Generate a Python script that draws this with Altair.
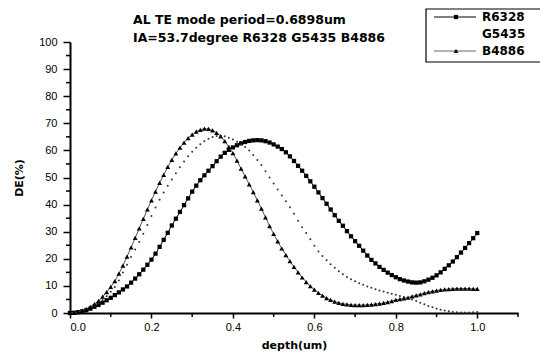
import altair as alt
import pandas as pd

# ---------------- data ----------------
depth = [round(i * 0.01, 2) for i in range(101)]

r6328 = [0, 0.1, 0.3, 0.6, 1.0, 1.6, 2.3, 3.0, 3.8, 4.7,
         5.6, 6.6, 7.6, 8.7, 9.8, 11.2, 12.7, 14.3, 16.0, 17.8,
         19.7, 21.9, 24.4, 27.0, 29.6, 32.3, 34.8, 37.3, 39.8, 42.3,
         44.8, 47.0, 49.0, 50.8, 52.5, 54.2, 56.0, 57.7, 59.1, 60.2,
         61.1, 61.9, 62.6, 63.1, 63.5, 63.7, 63.8, 63.7, 63.4, 62.9,
         62.2, 61.4, 60.5, 59.3, 57.8, 56.1, 54.3, 52.5, 50.6, 48.6,
         46.6, 44.5, 42.4, 40.3, 38.2, 36.1, 34.0, 32.2, 30.2, 28.3,
         26.5, 24.8, 23.0, 21.2, 19.6, 18.3, 17.0, 15.9, 14.9, 14.0,
         13.2, 12.5, 12.0, 11.6, 11.3, 11.2, 11.3, 11.7, 12.3, 13.0,
         13.9, 15.0, 16.3, 17.6, 19.0, 20.6, 22.3, 24.0, 25.8, 27.6,
         29.5]

g5435 = [0, 0.1, 0.3, 0.7, 1.2, 1.8, 2.6, 3.6, 4.8, 6.2,
         7.8, 9.6, 12.0, 14.9, 17.8, 20.7, 23.4, 26.2, 29.2, 32.5,
         35.8, 38.9, 41.8, 44.5, 47.0, 49.3, 51.6, 53.8, 55.9, 57.8,
         59.5, 61.0, 62.3, 63.4, 64.3, 64.9, 65.3, 65.4, 65.2, 64.7,
         64.0, 63.2, 62.3, 61.3, 60.0, 58.3, 56.5, 54.6, 52.3, 50.0,
         47.8, 45.6, 43.4, 41.2, 39.0, 36.6, 34.0, 31.6, 29.5, 27.2,
         24.8, 22.7, 21.0, 19.5, 18.0, 16.7, 15.4, 14.3, 13.3, 12.5,
         11.7, 11.0, 10.4, 9.8, 9.3, 8.8, 8.3, 7.9, 7.5, 7.1,
         6.7, 6.3, 5.9, 5.5, 5.0, 4.4, 3.8, 3.2, 2.6, 2.1,
         1.6, 1.2, 0.9, 0.6, 0.4, 0.3, 0.2, 0.2, 0.2, 0.3,
         0.4]

b4886 = [0, 0.1, 0.4, 0.9, 1.5, 2.3, 3.3, 4.5, 6.0, 7.7,
         9.6, 11.8, 14.5, 17.5, 20.8, 24.2, 27.7, 31.2, 34.7, 38.2,
         41.6, 44.8, 48.0, 51.0, 53.9, 56.5, 58.9, 61.0, 62.9, 64.5,
         65.8, 66.9, 67.6, 68.0, 67.9, 67.4, 66.5, 65.2, 63.4, 61.3,
         59.0, 56.2, 53.3, 50.4, 47.5, 44.6, 41.6, 38.5, 35.3, 32.1,
         29.2, 26.4, 23.8, 21.4, 19.1, 17.0, 15.0, 13.1, 11.4, 9.9,
         8.6, 7.4, 6.4, 5.5, 4.8, 4.2, 3.7, 3.4, 3.2, 3.0,
         2.9, 2.9, 2.9, 3.0, 3.1, 3.3, 3.5, 3.7, 4.0, 4.4,
         4.8, 5.1, 5.4, 5.7, 6.1, 6.5, 6.9, 7.3, 7.7, 8.0,
         8.3, 8.5, 8.7, 8.8, 8.9, 9.0, 9.0, 9.0, 9.0, 8.9,
         8.9]

series_names = ["R6328", "G5435", "B4886"]
title_lines = ["AL TE mode period=0.6898um", "IA=53.7degree R6328 G5435 B4886"]
x_major = [0.0, 0.2, 0.4, 0.6, 0.8, 1.0]
x_minor = [0.1, 0.3, 0.5, 0.7, 0.9, 1.1]
y_major = [0, 10, 20, 30, 40, 50, 60, 70, 80, 90, 100]
y_minor = [5, 15, 25, 35, 45, 55, 65, 75, 85, 95]

df = pd.DataFrame({
    "depth": depth * 3,
    "DE": r6328 + g5435 + b4886,
    "series": [series_names[0]] * 101 + [series_names[1]] * 101 + [series_names[2]] * 101,
})

W, H = 448, 271
LABEL_FONT = "Liberation Sans"
BOLD_FONT = "DejaVu Sans"

xscale = alt.Scale(domain=[0, 1.1], nice=False, zero=False)
yscale = alt.Scale(domain=[0, 100], nice=False)

x_axis = alt.Axis(orient="bottom", values=x_major, format=".1f", title="depth(um)",
                  grid=False, tickSize=5, tickWidth=1.5, domainWidth=2,
                  domainColor="black", tickColor="black", labelFont=LABEL_FONT,
                  labelFontSize=11, labelColor="black", labelPadding=3,
                  labelOverlap=False,
                  titleFont=BOLD_FONT, titleFontSize=11, titleFontWeight="bold",
                  titleColor="black", titlePadding=7)
y_axis = alt.Axis(orient="left", values=y_major, format="d", title="DE(%)", grid=False,
                  tickSize=7, tickWidth=1.5, domainWidth=2, domainColor="black",
                  tickColor="black", labelFont=LABEL_FONT, labelFontSize=11,
                  labelColor="black", labelPadding=6, labelOverlap=False,
                  titleFont=BOLD_FONT,
                  titleFontSize=11, titleFontWeight="bold", titleColor="black",
                  titlePadding=14)

X = alt.X("depth:Q", scale=xscale, axis=x_axis)
Y = alt.Y("DE:Q", scale=yscale, axis=y_axis)

base = alt.Chart(df)

r_line = base.transform_filter(alt.datum.series == "R6328").mark_line(
    color="black", strokeWidth=1).encode(x=X, y=Y)
r_pts = base.transform_filter(alt.datum.series == "R6328").mark_point(
    shape="square", filled=True, size=18, color="black", opacity=1).encode(x=X, y=Y)
b_line = base.transform_filter(alt.datum.series == "B4886").mark_line(
    color="#555555", strokeWidth=1).encode(x=X, y=Y)
b_pts = base.transform_filter(alt.datum.series == "B4886").mark_point(
    shape="triangle-up", filled=True, size=24, color="black", opacity=1).encode(x=X, y=Y)
g_pts = base.transform_filter(alt.datum.series == "G5435").mark_circle(
    size=4, color="#333333", opacity=1).encode(x=X, y=Y)

# minor ticks, placed through the shared scales
x_minor_ticks = alt.Chart(pd.DataFrame({"depth": x_minor})).mark_rule(
    color="black", strokeWidth=1.5).encode(
    x=X, y=alt.value(H), y2=alt.value(H + 4))
y_minor_ticks = alt.Chart(pd.DataFrame({"DE": y_minor})).mark_rule(
    color="black", strokeWidth=1.5).encode(
    y=Y, x=alt.value(-4), x2=alt.value(0))

one = alt.Data(values=[{}])

# title text (two lines)
title1 = alt.Chart(one).mark_text(align="left", baseline="middle", font=BOLD_FONT,
                                  fontSize=12.5, fontWeight="bold", color="black").encode(
    x=alt.value(63), y=alt.value(-22), text=alt.value(title_lines[0]))
title2 = alt.Chart(one).mark_text(align="left", baseline="middle", font=BOLD_FONT,
                                  fontSize=12.5, fontWeight="bold", color="black").encode(
    x=alt.value(63), y=alt.value(-4), text=alt.value(title_lines[1]))

# legend box
leg_box = alt.Chart(one).mark_rect(fill="white", stroke="black", strokeWidth=1.2).encode(
    x=alt.value(356), x2=alt.value(490), y=alt.value(-33), y2=alt.value(20))
leg_r_line = alt.Chart(one).mark_rule(color="black", strokeWidth=1).encode(
    x=alt.value(364), x2=alt.value(406), y=alt.value(-25))
leg_r_pt = alt.Chart(one).mark_point(shape="square", filled=True, size=18, color="black",
                                     opacity=1).encode(x=alt.value(386), y=alt.value(-25))
leg_b_line = alt.Chart(one).mark_rule(color="#666666", strokeWidth=1).encode(
    x=alt.value(364), x2=alt.value(406), y=alt.value(9))
leg_b_pt = alt.Chart(one).mark_point(shape="triangle-up", filled=True, size=24, color="black",
                                     opacity=1).encode(x=alt.value(386), y=alt.value(9))
leg_texts = []
for name, yy in zip(series_names, [-25, -8, 9]):
    leg_texts.append(alt.Chart(one).mark_text(
        align="left", baseline="middle", font=BOLD_FONT, fontSize=12, fontWeight="bold",
        color="black").encode(x=alt.value(412), y=alt.value(yy), text=alt.value(name)))

chart = alt.layer(
    r_line, r_pts, g_pts, b_line, b_pts, x_minor_ticks, y_minor_ticks,
    title1, title2, leg_box, leg_r_line, leg_r_pt, leg_b_line, leg_b_pt, *leg_texts
).properties(
    width=W, height=H,
    autosize=alt.AutoSizeParams(type="none"),
    padding={"left": 70, "top": 42, "right": 22, "bottom": 41},
    background="white",
).configure_view(stroke=None)

chart.save("out.html", embed_options={"renderer": "svg", "actions": False})
